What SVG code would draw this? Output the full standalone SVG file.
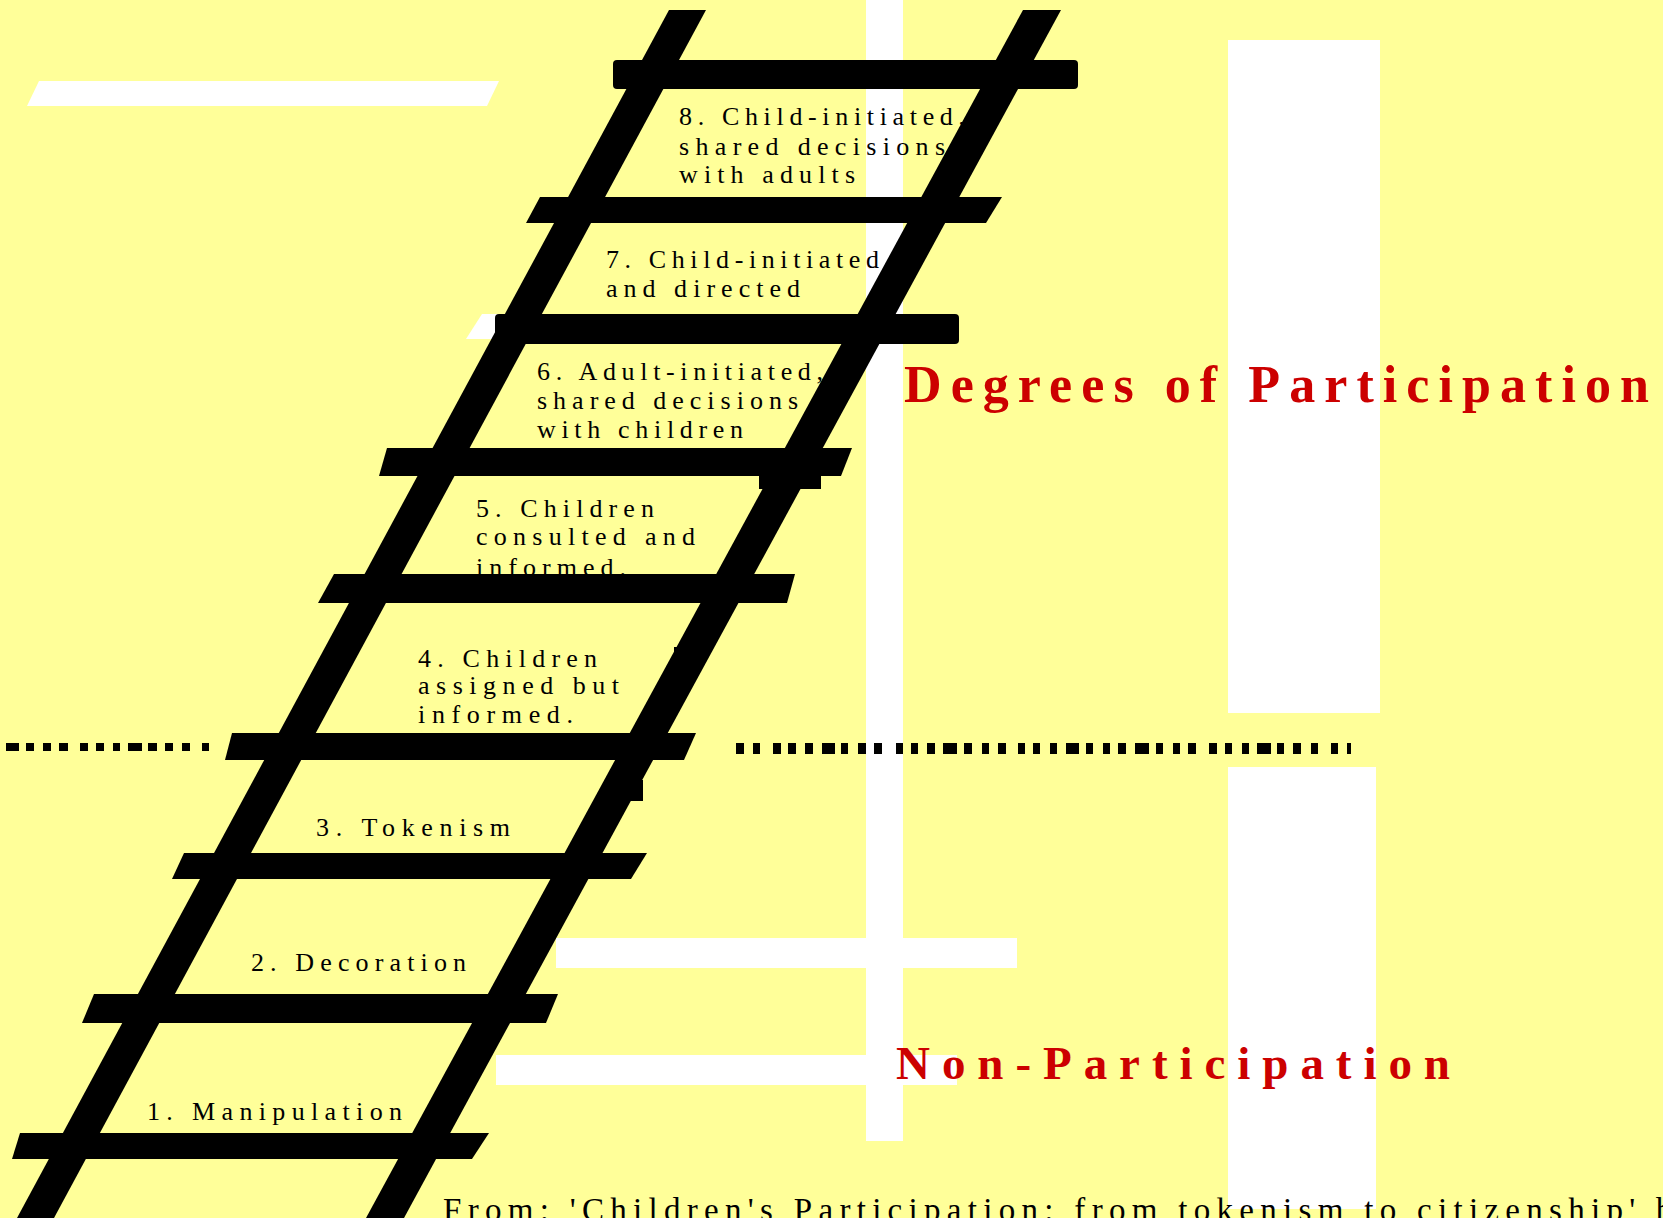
<svg xmlns="http://www.w3.org/2000/svg" width="1663" height="1218" viewBox="0 0 1663 1218">
<style>
.bg{fill:#FFFF99}
.wh{fill:#FFFFFF}
.blk{fill:#000000}
.lbl{font-family:"Liberation Serif","Times New Roman",serif;font-size:26px;fill:#000000}
.head{font-family:"Liberation Serif","Times New Roman",serif;font-weight:bold;fill:#CC0000}
.cap{font-family:"Liberation Serif","Times New Roman",serif;font-size:33px;fill:#000000;letter-spacing:6.3px}
</style>
<rect class="bg" x="0" y="0" width="1663" height="1218"/>
<g id="decorations">
<polygon class="wh" points="39,81 499,81 487,106 27,106"/>
<polygon class="wh" points="482,314 500,314 500,339 466,339"/>
<rect class="wh" x="866" y="0" width="37" height="1141"/>
<rect class="wh" x="1228" y="40" width="152" height="673"/>
<rect class="wh" x="1228" y="767" width="148" height="442"/>
<rect class="wh" x="556" y="938" width="461" height="30"/>
<rect class="wh" x="496" y="1055" width="461" height="30"/>
</g>
<g id="labels">
<g id="step8"><text class="lbl" lengthAdjust="spacing"><tspan x="679" y="125" textLength="286">8. Child-initiated,</tspan><tspan x="679" y="155" textLength="266">shared decisions</tspan><tspan x="679" y="183" textLength="176">with adults</tspan></text></g>
<g id="step7"><text class="lbl"><tspan x="606" y="268" textLength="273">7. Child-initiated</tspan><tspan x="606" y="297" textLength="194">and directed</tspan></text></g>
<g id="step6"><text class="lbl"><tspan x="537" y="380" textLength="286">6. Adult-initiated,</tspan><tspan x="537" y="409" textLength="261">shared decisions</tspan><tspan x="537" y="438" textLength="206">with children</tspan></text></g>
<g id="step5"><text class="lbl"><tspan x="476" y="517" textLength="178">5. Children</tspan><tspan x="476" y="545" textLength="219">consulted and</tspan><tspan x="476" y="576" textLength="150">informed.</tspan></text></g>
<g id="step4"><text class="lbl"><tspan x="418" y="667" textLength="179">4. Children</tspan><tspan x="418" y="694" textLength="201">assigned but</tspan><tspan x="418" y="723" textLength="155">informed.</tspan></text></g>
<g id="step3"><text class="lbl" x="316" y="836" textLength="194">3. Tokenism</text></g>
<g id="step2"><text class="lbl" x="251" y="971" textLength="215">2. Decoration</text></g>
<g id="step1"><text class="lbl" x="147" y="1120" textLength="255">1. Manipulation</text></g>
</g>
<g id="ladder">
<polygon class="blk" points="669,10 706,10 54,1218 17,1218"/>
<polygon class="blk" points="1023,10 1061,10 404,1218 366,1218"/>
<rect class="blk" x="613" y="60" width="465" height="29" rx="4"/>
<polygon class="blk" points="540,197 1002,197 986,223 526,223"/>
<rect class="blk" x="495" y="314" width="464" height="30" rx="4"/>
<polygon class="blk" points="387,448 852,448 841,476 379,476"/>
<rect class="blk" x="759" y="476" width="62" height="13"/>
<polygon class="blk" points="334,574 795,574 787,603 318,603"/>
<rect class="blk" x="674" y="647" width="6" height="16"/>
<polygon class="blk" points="232,733 696,733 684,760 225,760"/>
<rect class="blk" x="630" y="780" width="13" height="21"/>
<polygon class="blk" points="184,853 647,853 631,879 172,879"/>
<polygon class="blk" points="94,994 558,994 546,1023 82,1023"/>
<polygon class="blk" points="20,1133 489,1133 472,1159 12,1159"/>
</g>
<g id="connectors">
<path class="blk" d="M6 743h13v8h-13z M26 743h8v8h-8z M43 743h8v8h-8z M59 743h9v8h-9z M80 743h8v8h-8z M96 743h8v8h-8z M113 743h7v8h-7z M128 743h14v8h-14z M148 743h9v8h-9z M165 743h8v8h-8z M182 743h8v8h-8z M202 743h7v8h-7z"/>
<path class="blk" d="M736 743h8v11h-8z M753 743h7v11h-7z M773 743h8v11h-8z M788 743h8v11h-8z M805 743h8v11h-8z M822 743h13v11h-13z M841 743h7v11h-7z M858 743h8v11h-8z M874 743h8v11h-8z M896 743h7v11h-7z M911 743h7v11h-7z M927 743h8v11h-8z M943 743h14v11h-14z M964 743h8v11h-8z M982 743h7v11h-7z M998 743h8v11h-8z M1018 743h7v11h-7z M1033 743h7v11h-7z M1050 743h7v11h-7z M1066 743h13v11h-13z M1086 743h7v11h-7z M1103 743h7v11h-7z M1118 743h8v11h-8z M1135 743h14v11h-14z M1156 743h7v11h-7z M1173 743h7v11h-7z M1188 743h8v11h-8z M1209 743h8v11h-8z M1225 743h7v11h-7z M1242 743h7v11h-7z M1257 743h14v11h-14z M1277 743h7v11h-7z M1293 743h8v11h-8z M1311 743h7v11h-7z M1331 743h7v11h-7z M1347 743h4v11h-4z"/>
</g>
<g id="headings">
<text class="head" x="904" y="402" font-size="52" textLength="745">Degrees of Participation</text>
<text class="head" x="896" y="1079" font-size="47" textLength="554">Non-Participation</text>
</g>
<g id="caption">
<rect class="bg" x="440" y="1209" width="1223" height="9"/>
<text class="cap" x="443" y="1221">From: 'Children's Participation: from tokenism to citizenship' b</text>
</g>
</svg>
